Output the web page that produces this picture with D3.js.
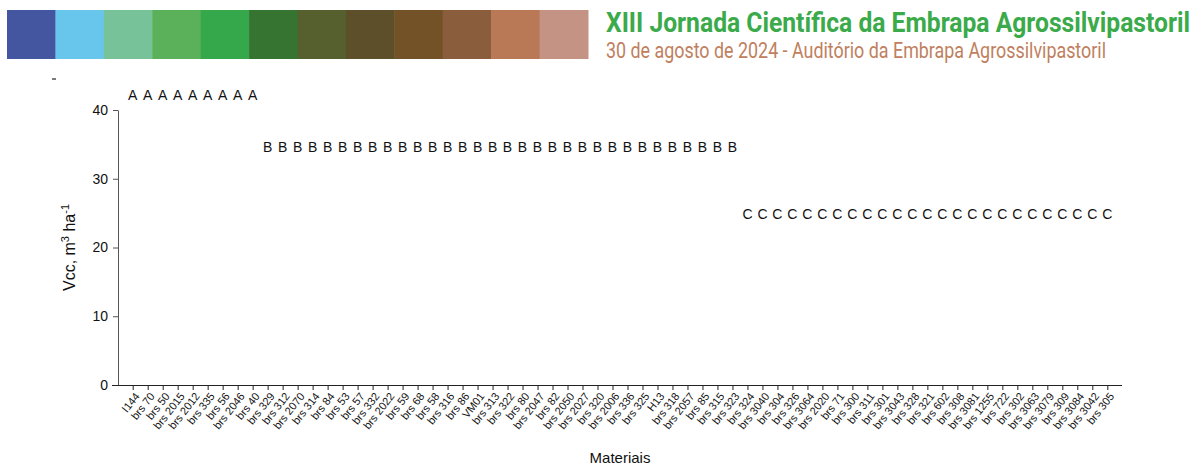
<!DOCTYPE html>
<html>
<head>
<meta charset="utf-8">
<script src="https://cdn.jsdelivr.net/npm/d3@7"></script>
<style>
  html, body { margin: 0; padding: 0; background: #fff; }
  svg { display: block; }
  text { font-family: "Liberation Sans", Arial, sans-serif; fill: #111; }
</style>
</head>
<body>
<svg id="chart" width="1198" height="466"></svg>
<script>
// Genotypes evaluated, in plotted order
const materials = [
  "I144", "brs 70", "brs 50", "brs 2015", "brs 2012", "brs 335", "brs 56", "brs 2046", "brs 40",
  "brs 329", "brs 312", "brs 2070", "brs 314", "brs 84", "brs 53", "brs 57", "brs 332", "brs 2022",
  "brs 59", "brs 68", "brs 58", "brs 316", "brs 86", "VM01", "brs 313", "brs 322", "brs 80",
  "brs 2047", "brs 82", "brs 2050", "brs 2027", "brs 320", "brs 2006", "brs 336", "brs 325", "H13",
  "brs 318", "brs 2057", "brs 85", "brs 315", "brs 323",
  "brs 324", "brs 3040", "brs 304", "brs 326", "brs 3064", "brs 2020", "brs 71", "brs 300", "brs 311",
  "brs 301", "brs 3043", "brs 328", "brs 321", "brs 602", "brs 308", "brs 3081", "brs 1255", "brs 722",
  "brs 302", "brs 3063", "brs 3079", "brs 309", "brs 3084", "brs 3042", "brs 305"
];

// Mean-comparison group for each material (same order)
const groupLetters = [
  "A","A","A","A","A","A","A","A","A",
  "B","B","B","B","B","B","B","B","B","B","B","B","B","B","B","B","B","B","B","B","B","B","B","B","B","B","B","B","B","B","B","B",
  "C","C","C","C","C","C","C","C","C","C","C","C","C","C","C","C","C","C","C","C","C","C","C","C","C"
];

// Group letters and the Vcc level at which each group's letter is written
const groups = ["A", "B", "C"];
const groupVcc = [41.4, 33.9, 24.1];

const yTicks = [0, 10, 20, 30, 40];
const yDomain = [0, 40];

// Header strip colours
const stripColors = [
  "#4556a0", "#68c6ec", "#77c299", "#5bb15a", "#34a84a", "#367531",
  "#55602e", "#5c4f29", "#735227", "#8a5e3d", "#b97856", "#c59383"
];

const svg = d3.select("#chart");

// ---- header ----
const strip = d3.scaleBand().domain(d3.range(stripColors.length)).range([7, 588]);
svg.append("g").selectAll("rect").data(stripColors).join("rect")
  .attr("x", (d, i) => strip(i))
  .attr("y", 10)
  .attr("width", strip.bandwidth() + 0.5)
  .attr("height", 49)
  .attr("fill", d => d);

// condensed-looking title: small font stretched vertically
svg.append("text")
  .attr("transform", "translate(606,32) scale(1,1.4)")
  .attr("textLength", 584).attr("lengthAdjust", "spacingAndGlyphs")
  .style("font-family", "Roboto, 'Noto Sans', sans-serif")
  .style("font-weight", "bold").style("font-size", "20px")
  .style("fill", "#3aaa4a")
  .text("XIII Jornada Científica da Embrapa Agrossilvipastoril");

svg.append("text")
  .attr("transform", "translate(606,58) scale(1,1.3)")
  .attr("textLength", 500).attr("lengthAdjust", "spacingAndGlyphs")
  .style("font-family", "Roboto, 'Noto Sans', sans-serif")
  .style("font-size", "16.5px")
  .style("fill", "#c0805e")
  .text("30 de agosto de 2024 - Auditório da Embrapa Agrossilvipastoril");

// ---- plot ----
const x = d3.scalePoint().domain(materials).range([132.7, 1107.3]);
const y = d3.scaleLinear().domain(yDomain).range([385, 110]);

// small mark at the top-left of the plot
svg.append("line").attr("x1", 52).attr("x2", 56).attr("y1", 79).attr("y2", 79)
  .attr("stroke", "#222").attr("stroke-width", 1.2);

// y axis
const yAxis = svg.append("g").attr("transform", "translate(118,0)")
  .call(d3.axisLeft(y).tickValues(yTicks).tickSize(5).tickPadding(5).tickSizeOuter(0));
yAxis.select(".domain").attr("stroke", "#555");
yAxis.selectAll(".tick line").attr("stroke", "#555");
yAxis.selectAll(".tick text").style("font-size", "14px").style("fill", "#111")
  .style("font-family", "'Liberation Sans', Arial, sans-serif");

// x axis
const xAxis = svg.append("g").attr("transform", "translate(0,385)")
  .call(d3.axisBottom(x).tickSize(5).tickSizeOuter(0));
xAxis.select(".domain").attr("d", "M112,0.5H1122").attr("stroke", "#222");
xAxis.selectAll(".tick line").attr("stroke", "#222");
xAxis.selectAll(".tick text")
  .style("font-size", "11px").style("fill", "#111")
  .style("font-family", "'Liberation Sans', Arial, sans-serif")
  .attr("text-anchor", "end")
  .attr("dy", "0.35em")
  .attr("y", 0)
  .attr("transform", "translate(4,9) rotate(-52)");

// group letters
const letterData = materials.map((m, i) => ({ m, g: groupLetters[i] }));
svg.append("g").selectAll("text").data(letterData).join("text")
  .attr("x", d => x(d.m))
  .attr("y", d => y(groupVcc[groups.indexOf(d.g)]))
  .attr("text-anchor", "middle")
  .style("font-size", "14px")
  .text(d => d.g);

// axis titles
const yTitle = svg.append("text")
  .attr("transform", "translate(75,247.5) rotate(-90)")
  .attr("text-anchor", "middle")
  .style("font-size", "16px");
yTitle.append("tspan").text("Vcc, m");
yTitle.append("tspan").attr("dy", -6).style("font-size", "11px").text("3");
yTitle.append("tspan").attr("dy", 6).text(" ha");
yTitle.append("tspan").attr("dy", -6).style("font-size", "11px").text("-1");

svg.append("text")
  .attr("x", 620).attr("y", 463)
  .attr("text-anchor", "middle")
  .style("font-size", "15px")
  .text("Materiais");
</script>
</body>
</html>
